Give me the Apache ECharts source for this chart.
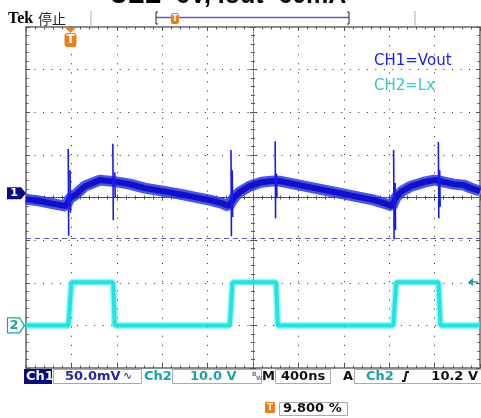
<!DOCTYPE html>
<html>
<head>
<meta charset="utf-8">
<script src="https://cdn.jsdelivr.net/npm/echarts@6/dist/echarts.min.js"></script>
<style>
html,body{margin:0;padding:0;background:#fff;}
#scope{width:481px;height:418px;}
</style>
</head>
<body>
<div id="scope"></div>
<script>
// Scope settings
const nsPerDiv = 400;          // M 400ns
const divisionsX = 10;
const divisionsY = 8;
const ch1Scale = 50;           // mV/div
const ch1Offset = 0.1;         // div above centre
const ch2Scale = 10;           // V/div
const ch2Offset = -3;          // div below centre
const triggerLevel = 10.2;     // V on Ch2
const triggerPct = 9.8;        // horizontal trigger position, %
const cursorDiv = -0.95;       // dashed horizontal marker

// CH1 = Vout (mV), averaged trace through the noise band
const ch1Time = [0, 123, 255, 352, 368, 386, 400, 431, 519, 651, 738, 760,
  775, 809, 914, 1046, 1204, 1354, 1486, 1618, 1723, 1785, 1800, 1820, 1837, 1881,
  1969, 2075, 2163, 2190, 2205, 2233, 2321, 2409, 2585, 2761, 2936, 3068, 3182, 3226,
  3236, 3255, 3270, 3314, 3393, 3508, 3596, 3628, 3642, 3683, 3771, 3859, 3921, 4000];
const ch1Mv = [-6.9, -9.3, -12.8, -15.1, -15, -6, -4, -2.2, 8.3, 15.4, 14.2, 14,
  14, 13, 10.7, 6, 2.5, -1, -4.6, -8.1, -11.6, -15.1, -15, -8, -4.6, 1.3,
  8.3, 13, 14.2, 14.5, 14.5, 14.2, 11.9, 9.5, 4.8, 0.1, -4.6, -8.1, -12.8, -15.1,
  -15, -6, -3.4, 2.5, 8.3, 13, 15.4, 15, 14.5, 13, 10.7, 9.5, 6, 2.5];
// Switching spikes on Vout: [time ns, top mV, bottom mV]
const ch1Spikes = [
  [372, 52, -50], [388, 27, -23],
  [765, 58, -31.6], [782, 24.5, -5.7],
  [1806, 50.6, -50.4], [1817, 27, -28],
  [2195, 61, -29.2], [2207, 23, -6],
  [3239, 50.6, -53.9], [3252, 12, -43],
  [3633, 60, -29.2], [3645, 27, -16]
];

// CH2 = Lx (V)
const ch2Time = [0, 374, 400, 768, 782, 1796, 1820, 2204, 2218, 3236, 3262, 3634, 3652, 4000];
const ch2Volt = [0, 0, 10.1, 10.1, 0, 0, 10.1, 10.1, 0, 0, 10.1, 10.1, 0, 0];

// Readout strings
const titleText = 'UEE=6V, Iout=60mA';
const ch1Label = 'CH1=Vout';
const ch2Label = 'CH2=Lx';
const ch1Readout = '50.0mV';
const ch2Readout = '10.0 V';
const timeReadout = '400ns';
const trigReadout = '10.2 V';
const posReadout = '9.800 %';

const ch1Data = ch1Time.map((t, i) => [t, ch1Mv[i] / ch1Scale + ch1Offset]);
const spikeData = [];
ch1Spikes.forEach(s => {
  spikeData.push([s[0], s[1] / ch1Scale + ch1Offset]);
  spikeData.push([s[0] + 4, s[2] / ch1Scale + ch1Offset]);
  spikeData.push(null);
});
const ch2Data = ch2Time.map((t, i) => [t, ch2Volt[i] / ch2Scale + ch2Offset]);

const tMax = nsPerDiv * divisionsX;
const half = divisionsY / 2;
const borderLine = { onZero: false, lineStyle: { color: '#8c8c8c', width: 2 } };
const tickStyle = { color: '#555', width: 1 };

function xBorder(pos, split) {
  return {
    type: 'value', min: 0, max: tMax, interval: nsPerDiv, position: pos,
    axisLine: borderLine,
    axisTick: { show: true, inside: true, length: 4, lineStyle: tickStyle },
    minorTick: { show: true, splitNumber: 5, length: 2.5, lineStyle: tickStyle },
    axisLabel: { show: false },
    splitLine: { show: split, lineStyle: { color: '#222', width: 1, type: [1, 8.08] } }
  };
}
function xCentre(inside) {
  return {
    type: 'value', min: -tMax / 2, max: tMax / 2, interval: nsPerDiv, position: 'bottom',
    axisLine: { onZero: true, onZeroAxisIndex: 0, lineStyle: { color: '#333', width: 1, type: [1, 1.5] } },
    axisTick: { show: true, inside: inside, length: 3, lineStyle: tickStyle },
    minorTick: { show: true, splitNumber: 5, length: 2, lineStyle: tickStyle },
    axisLabel: { show: false }, splitLine: { show: false }
  };
}
function yBorder(pos, split) {
  return {
    type: 'value', min: -half, max: half, interval: 1, position: pos,
    axisLine: borderLine,
    axisTick: { show: true, inside: true, length: 4, lineStyle: tickStyle },
    minorTick: { show: true, splitNumber: 5, length: 2.5, lineStyle: tickStyle },
    axisLabel: { show: false },
    splitLine: { show: split, lineStyle: { color: '#222', width: 1, type: [1, 7.52] } }
  };
}
function yCentre(inside) {
  return {
    type: 'value', min: -half, max: half, interval: 1, position: 'left',
    axisLine: { onZero: true, onZeroAxisIndex: 2, lineStyle: { color: '#777', width: 1, type: [1, 1.5] } },
    axisTick: { show: true, inside: inside, length: 3, lineStyle: tickStyle },
    minorTick: { show: true, splitNumber: 5, length: 2, lineStyle: tickStyle },
    axisLabel: { show: false }, splitLine: { show: false }
  };
}

const chart = echarts.init(document.getElementById('scope'), null, { renderer: 'canvas' });
chart.setOption({
  animation: false,
  backgroundColor: '#ffffff',
  grid: { left: 26, right: 1, top: 27, bottom: 50, containLabel: false },
  xAxis: [xBorder('bottom', true), xBorder('top', false), xCentre(true), xCentre(false)],
  yAxis: [yBorder('left', true), yBorder('right', false), yCentre(true), yCentre(false)],
  series: [
    {
      name: 'Lx haze', type: 'line', xAxisIndex: 0, yAxisIndex: 0, data: ch2Data,
      symbol: 'none', lineStyle: { color: 'rgba(40,232,232,0.45)', width: 7 }, z: 3,
      markLine: {
        silent: true, symbol: 'none', label: { show: false },
        lineStyle: { color: '#5a5ab4', width: 1, type: [5, 4] },
        data: [{ yAxis: cursorDiv }]
      }
    },
    {
      name: 'Lx', type: 'line', xAxisIndex: 0, yAxisIndex: 0, data: ch2Data,
      symbol: 'none', lineStyle: { color: '#1ee4e4', width: 4 }, z: 4
    },
    {
      name: 'Vout haze', type: 'line', xAxisIndex: 0, yAxisIndex: 0, data: ch1Data,
      symbol: 'none', lineStyle: { color: 'rgba(40,55,235,0.85)', width: 11 }, z: 5
    },
    {
      name: 'Vout', type: 'line', xAxisIndex: 0, yAxisIndex: 0, data: ch1Data,
      symbol: 'none', lineStyle: { color: '#1010c8', width: 6 }, z: 6
    },
    {
      name: 'Vout spikes', type: 'line', xAxisIndex: 0, yAxisIndex: 0, data: spikeData,
      connectNulls: false, symbol: 'none', lineStyle: { color: '#1a1ae8', width: 1.6 }, z: 7
    }
  ]
});

const px = (t, d) => chart.convertToPixel({ xAxisIndex: 0, yAxisIndex: 0 }, [t, d]);
const trigT = tMax * triggerPct / 100;
const trigX = px(trigT, 0)[0];
const ch1Y = px(0, ch1Offset)[1];
const ch2Y = px(0, ch2Offset)[1];
const trigY = px(tMax, ch2Offset + triggerLevel / ch2Scale)[1];

const ORANGE = '#f07c18';
const TEAL = '#1aa3a3';
const NAVY = '#0c0c82';
const monoBold = 'bold 13px "DejaVu Sans"';
const g = [];
const txt = (text, x, y, font, fill, align) => g.push({
  type: 'text', silent: true, z: 100,
  style: { text: text, x: x, y: y, font: font, fill: fill, align: align || 'left', verticalAlign: 'middle' }
});
const box = (x, y, w, h, fill, stroke) => g.push({
  type: 'rect', silent: true, z: 90,
  shape: { x: x, y: y, width: w, height: h },
  style: { fill: fill, stroke: stroke || null, lineWidth: 1 }
});

// heading (mostly above the top edge)
txt(titleText, 228, -4, 'bold 25px "Liberation Sans"', '#000', 'center');

// status bar
txt('Tek', 8, 19, 'bold 16px "Liberation Serif"', '#000');
txt('停止', 38, 19, '14px "Noto Sans CJK SC"', '#222');
[91, 415].forEach(x => g.push({ type: 'line', silent: true, z: 90,
  shape: { x1: x, y1: 11, x2: x, y2: 27 }, style: { stroke: '#aaa', lineWidth: 1 } }));
const brL = 156, brR = 349;
g.push({ type: 'line', silent: true, z: 90, shape: { x1: brL, y1: 17.5, x2: brR, y2: 17.5 },
  style: { stroke: '#5a5ac8', lineWidth: 1.5 } });
g.push({ type: 'polyline', silent: true, z: 91, shape: { points: [[brL + 2, 12], [brL, 12], [brL, 24], [brL + 2, 24]] },
  style: { stroke: '#222', lineWidth: 1, fill: null } });
g.push({ type: 'polyline', silent: true, z: 91, shape: { points: [[brR - 2, 12], [brR, 12], [brR, 24], [brR - 2, 24]] },
  style: { stroke: '#222', lineWidth: 1, fill: null } });
const brT = brL + (brR - brL) * triggerPct / 100;
g.push({ type: 'rect', silent: true, z: 92, shape: { x: brT - 4, y: 13, width: 8, height: 11, r: 2 }, style: { fill: ORANGE } });
txt('T', brT, 18.5, 'bold 8px "DejaVu Sans"', '#fff', 'center');

// trigger position marker
g.push({ type: 'polygon', silent: true, z: 92, shape: { points: [[trigX - 5, 28], [trigX + 5, 28], [trigX, 33]] }, style: { fill: ORANGE } });
g.push({ type: 'rect', silent: true, z: 92, shape: { x: trigX - 6, y: 33, width: 12, height: 14, r: 3 }, style: { fill: ORANGE } });
txt('T', trigX, 40, 'bold 12px "DejaVu Sans"', '#fff', 'center');

// channel ground markers
g.push({ type: 'polygon', silent: true, z: 92,
  shape: { points: [[7, ch1Y - 6], [21, ch1Y - 6], [26, ch1Y], [21, ch1Y + 6], [7, ch1Y + 6]] },
  style: { fill: NAVY } });
txt('1', 14, ch1Y, 'bold 11px "DejaVu Sans"', '#fff', 'center');
g.push({ type: 'polygon', silent: true, z: 92,
  shape: { points: [[7.5, ch2Y - 7.5], [19.5, ch2Y - 7.5], [24.5, ch2Y], [19.5, ch2Y + 7.5], [7.5, ch2Y + 7.5]] },
  style: { fill: '#fff', stroke: TEAL, lineWidth: 1.2 } });
txt('2', 14, ch2Y, 'bold 13px "DejaVu Sans"', TEAL, 'center');

// trigger level arrow
g.push({ type: 'polygon', silent: true, z: 92,
  shape: { points: [[468, trigY], [473, trigY - 4], [473, trigY + 4]] }, style: { fill: TEAL } });
g.push({ type: 'line', silent: true, z: 92, shape: { x1: 472, y1: trigY, x2: 478, y2: trigY },
  style: { stroke: TEAL, lineWidth: 1.5 } });

// channel legend
txt(ch1Label, 374, 61, '15px "DejaVu Sans"', '#1c1cf0');
txt(ch2Label, 374, 86, '15px "DejaVu Sans"', '#2dcccc');

// readout bar
const ry = 369, rh = 15, rc = ry + rh / 2;
box(24, ry, 28, rh, NAVY);
txt('Ch1', 26, rc, monoBold, '#fff');
box(53.5, ry + 0.5, 88, rh - 1, '#fff', '#aaa');
txt(ch1Readout, 65, rc, monoBold, '#2626a6');
txt('∿', 123, rc, '11px "DejaVu Sans"', '#2626a6');
txt('Ch2', 144, rc, monoBold, TEAL);
box(172.5, ry + 0.5, 89, rh - 1, '#fff', '#aaa');
txt(ch2Readout, 190, rc, monoBold, TEAL);
txt('B', 252, ry + 5, 'bold 6px "DejaVu Sans"', '#6a7ab0');
txt('W', 256, ry + 9, 'bold 6px "DejaVu Sans"', '#6a7ab0');
txt('M', 262, rc, monoBold, '#111');
box(275.5, ry + 0.5, 55, rh - 1, '#fff', '#aaa');
txt(timeReadout, 281, rc, monoBold, '#111');
txt('A', 343, rc, monoBold, '#111');
box(354.5, ry + 0.5, 127, rh - 1, '#fff', '#aaa');
txt('Ch2', 366, rc, monoBold, TEAL);
g.push({ type: 'polyline', silent: true, z: 100,
  shape: { points: [[402, ry + 12], [404.5, ry + 12], [406.5, ry + 3], [409, ry + 3]] },
  style: { stroke: '#111', lineWidth: 2, fill: null } });
txt(trigReadout, 478, rc, monoBold, '#111', 'right');

// horizontal position readout
g.push({ type: 'rect', silent: true, z: 92, shape: { x: 265, y: 402, width: 10, height: 11, r: 1 }, style: { fill: ORANGE } });
txt('T', 270, 407.5, 'bold 9px "DejaVu Sans"', '#fff', 'center');
box(279.5, 402.5, 68, 13, '#fff', '#aaa');
txt(posReadout, 283, 409, monoBold, '#111');

chart.setOption({ graphic: { elements: g } });
</script>
</body>
</html>
